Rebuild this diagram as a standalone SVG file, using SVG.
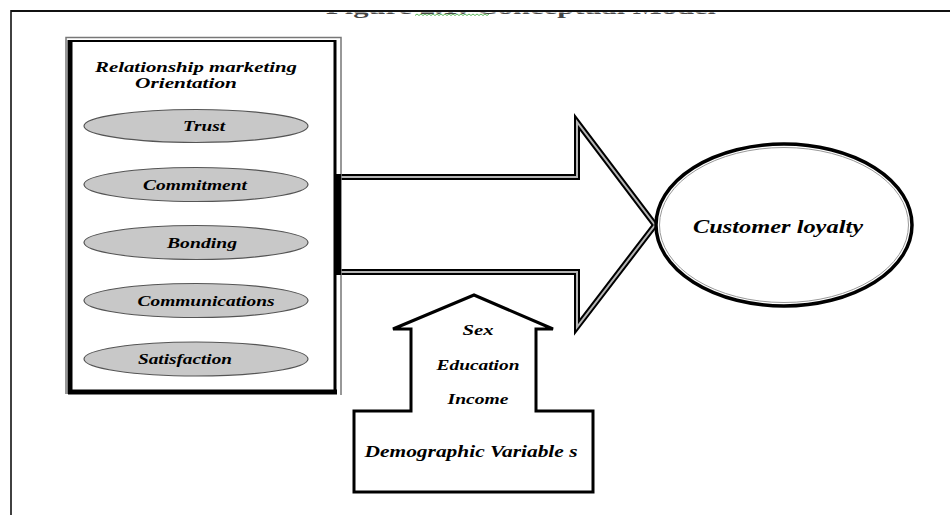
<svg xmlns="http://www.w3.org/2000/svg" width="950" height="515" viewBox="0 0 950 515">
<style>
  .t { font-family: "Liberation Serif", "Times New Roman", serif; font-style: italic; font-weight: bold; fill: #000; }
  .oval { fill: #c8c8c8; stroke: #555; stroke-width: 1.2; }
  .house { fill: #fff; stroke: #000; stroke-width: 3; stroke-linejoin: miter; }
</style>
<rect x="0" y="0" width="950" height="515" fill="#fff"/>

<!-- title, mostly cut off by the page top -->
<g id="title">
  <text x="521" y="14" text-anchor="middle" font-family="Liberation Serif, serif" font-weight="bold" font-size="18" fill="#444" textLength="390" lengthAdjust="spacingAndGlyphs">Figure 2.1: Conceptual Model</text>
  <rect x="0" y="0" width="950" height="12.5" fill="#fff"/>
  <path d="M415 15.5 l2 -1.5 l2 1.5 l2 -1.5 l2 1.5 l2 -1.5 l2 1.5 l2 -1.5 l2 1.5 l2 -1.5 l2 1.5 l2 -1.5 l2 1.5 l2 -1.5 l2 1.5 l2 -1.5 l2 1.5 l2 -1.5 l2 1.5 l2 -1.5 l2 1.5 l2 -1.5 l2 1.5 l2 -1.5 l2 1.5 l2 -1.5 l2 1.5 l2 -1.5 l2 1.5 l2 -1.5 l2 1.5 l2 -1.5 l2 1.5 l2 -1.5 l2 1.5 l2 -1.5 l2 1.5 l2 -1.5" fill="none" stroke="#5cb85c" stroke-width="1"/>
</g>

<!-- page frame -->
<g id="frame">
  <line x1="11" y1="11" x2="950" y2="11" stroke="#111" stroke-width="2"/>
  <line x1="11" y1="10" x2="11" y2="515" stroke="#111" stroke-width="1.6"/>
</g>

<!-- connectors -->
<g id="connectors">
  <path d="M341 177 L577 177 L577 122 L655 225 L577 327 L577 272 L341 272" fill="#fff" stroke="#000" stroke-width="6" stroke-linejoin="miter" stroke-miterlimit="10"/>
  <path d="M341 177 L577 177 L577 122 L655 225 L577 327 L577 272 L341 272" fill="none" stroke="#b5b5b5" stroke-width="2" stroke-linejoin="miter" stroke-miterlimit="10"/>
</g>

<!-- left box -->
<g id="rmo">
  <polyline points="66,394 66,37.5 341,37.5 341,395" fill="none" stroke="#777" stroke-width="1.5"/>
  <rect x="70" y="41" width="265" height="351" fill="#fff" stroke="#000" stroke-width="2"/>
  <line x1="70" y1="40" x2="70" y2="394" stroke="#000" stroke-width="5"/>
  <line x1="68" y1="392" x2="337" y2="392" stroke="#000" stroke-width="5"/>
  <line x1="335" y1="40" x2="335" y2="394" stroke="#000" stroke-width="3"/>
  <line x1="338" y1="174" x2="338" y2="275" stroke="#000" stroke-width="6"/>
  <text class="t" x="196" y="72" text-anchor="middle" font-size="15.5" textLength="202" lengthAdjust="spacingAndGlyphs">Relationship marketing</text>
  <text class="t" x="186" y="88" text-anchor="middle" font-size="15.5" textLength="102" lengthAdjust="spacingAndGlyphs">Orientation</text>
</g>
<g id="trust">
  <ellipse class="oval" cx="196" cy="126" rx="112" ry="16.5"/>
  <text class="t" x="204" y="131" text-anchor="middle" font-size="14.5" textLength="42" lengthAdjust="spacingAndGlyphs">Trust</text>
</g>
<g id="commitment">
  <ellipse class="oval" cx="196" cy="184.5" rx="112" ry="17"/>
  <text class="t" x="195" y="189.5" text-anchor="middle" font-size="14.5" textLength="104" lengthAdjust="spacingAndGlyphs">Commitment</text>
</g>
<g id="bonding">
  <ellipse class="oval" cx="196" cy="242.5" rx="112" ry="17"/>
  <text class="t" x="202" y="247.5" text-anchor="middle" font-size="14.5" textLength="70" lengthAdjust="spacingAndGlyphs">Bonding</text>
</g>
<g id="communications">
  <ellipse class="oval" cx="196" cy="300.5" rx="112" ry="17"/>
  <text class="t" x="206" y="305.5" text-anchor="middle" font-size="14.5" textLength="137" lengthAdjust="spacingAndGlyphs">Communications</text>
</g>
<g id="satisfaction">
  <ellipse class="oval" cx="196" cy="359" rx="112" ry="17"/>
  <text class="t" x="185" y="364" text-anchor="middle" font-size="14.5" textLength="94" lengthAdjust="spacingAndGlyphs">Satisfaction</text>
</g>

<!-- customer loyalty -->
<g id="loyalty">
  <ellipse cx="784" cy="225" rx="128" ry="81" fill="#fff" stroke="#000" stroke-width="3.5"/>
  <ellipse cx="784" cy="225" rx="124.5" ry="77.5" fill="none" stroke="#999" stroke-width="1"/>
  <text class="t" x="778" y="233" text-anchor="middle" font-size="18" textLength="170" lengthAdjust="spacingAndGlyphs">Customer loyalty</text>
</g>

<!-- demographic -->
<g id="demographic">
  <path class="house" d="M474 295 L553 329 L536 329 L536 411 L593 411 L593 492 L354 492 L354 411 L411 411 L411 329 L393 329 Z"/>
  <text class="t" x="478" y="335" text-anchor="middle" font-size="15" font-weight="normal" textLength="31" lengthAdjust="spacingAndGlyphs">Sex</text>
  <text class="t" x="478" y="370" text-anchor="middle" font-size="15" font-weight="normal" textLength="83" lengthAdjust="spacingAndGlyphs">Education</text>
  <text class="t" x="478" y="404" text-anchor="middle" font-size="15" font-weight="normal" textLength="61" lengthAdjust="spacingAndGlyphs">Income</text>
  <text class="t" x="471" y="457" text-anchor="middle" font-size="16.5" font-weight="normal" textLength="213" lengthAdjust="spacingAndGlyphs">Demographic Variable s</text>
</g>
</svg>
